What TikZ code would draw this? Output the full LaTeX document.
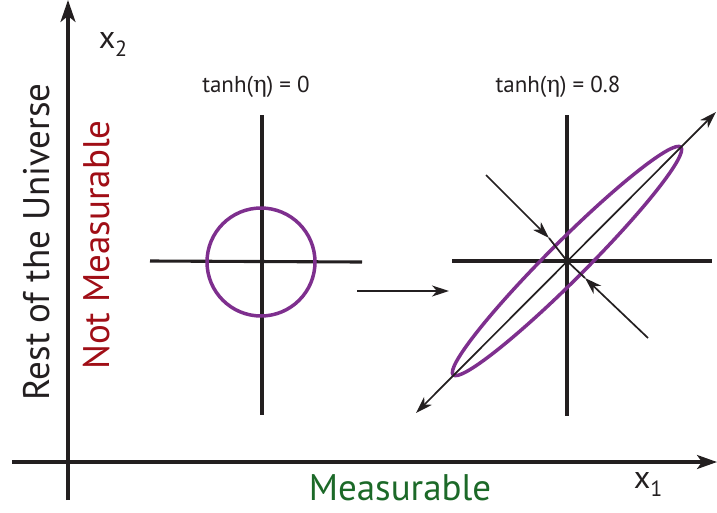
\documentclass[tikz,border=0pt]{standalone}
\usepackage{fontspec}
\setmainfont{PT Sans}
\newfontfamily\grk{DejaVu Serif}
\usetikzlibrary{arrows.meta}
\definecolor{purp}{RGB}{126,47,142}
\definecolor{nmred}{RGB}{160,14,22}
\definecolor{mgreen}{RGB}{28,105,40}
\definecolor{ink}{RGB}{35,31,32}
\tikzset{
  axisline/.style={draw=ink,line width=3.1pt},
  plotline/.style={draw=ink,line width=3.1pt},
  thinarrow/.style={draw=ink,line width=1.7pt},
  ell/.style={draw=purp,line width=3.5pt},
  bigtip/.style={-{Stealth[length=22pt,width=15pt,inset=6pt]}},
  smalltip/.style={-{Stealth[length=17pt,width=11pt,inset=5pt]}},
  bothtip/.style={{Stealth[length=17pt,width=11pt,inset=5pt]}-{Stealth[length=17pt,width=11pt,inset=5pt]}},
  biglabel/.style={font=\fontsize{37}{42}\selectfont,inner sep=0pt},
  ttl/.style={font=\fontsize{23}{26}\selectfont,inner sep=0pt,text=ink},
  axlabel/.style={font=\fontsize{32}{36}\selectfont,inner sep=0pt,text=ink}
}
\begin{document}
\begin{tikzpicture}[x=1pt,y=-1pt]
\useasboundingbox (0,0) rectangle (717,512);
% main axes
\coordinate (yb) at (68,500);
\coordinate (yt) at (68,0);
\coordinate (xl) at (12,462);
\coordinate (xr) at (717,462);
\draw[axisline,bigtip] (yb) -- (yt);
\draw[axisline,-{Stealth[length=20pt,width=14pt,inset=5pt]}] (xl) -- (xr);
\node[axlabel] (x2) at (113,44) {x\raisebox{-0.25em}{\fontsize{22}{24}\selectfont 2}};
\node[axlabel] (x1) at (648,484) {x\raisebox{-0.25em}{\fontsize{22}{24}\selectfont 1}};
\node[biglabel,rotate=90,text=ink] (rest) at (37,242) {Rest of the Universe};
\node[biglabel,rotate=90,text=nmred] (notm) at (97,245) {Not Measurable};
\node[biglabel,text=mgreen] (meas) at (400,488) {Measurable};
% left plot
\coordinate (lt) at (262,115);
\coordinate (lb) at (262,415);
\coordinate (ll) at (150,261);
\coordinate (lr) at (362,262);
\coordinate (lc) at (261,262);
\draw[plotline] (lt) -- (lb);
\draw[plotline] (ll) -- (lr);
\draw[ell] (lc) circle[radius=54pt];
\node[ttl] (t0) at (256,87) {tanh({\grk η}) = 0};
% middle arrow
\coordinate (ma) at (357,291);
\coordinate (mb) at (449,291);
\draw[thinarrow,smalltip] (ma) -- (mb);
% right plot
\coordinate (rt) at (567,115);
\coordinate (rb) at (567,416);
\coordinate (rl) at (452,261);
\coordinate (rr) at (712,261);
\coordinate (rc) at (567,261);
\draw[plotline] (rt) -- (rb);
\draw[plotline] (rl) -- (rr);
\draw[ell] (rc) ellipse[x radius=161pt,y radius=19pt,rotate=45];
\coordinate (dl) at (416,413);
\coordinate (du) at (716,112);
\draw[thinarrow,bothtip] (dl) -- (du);
\coordinate (a1) at (486,175);
\coordinate (a1t) at (549,238);
\coordinate (a2) at (648,338);
\coordinate (a2t) at (585,278);
\draw[thinarrow,smalltip] (a1) -- (a1t);
\draw[thinarrow] (a1t) -- (rc);
\draw[thinarrow,smalltip] (a2) -- (a2t);
\draw[thinarrow] (a2t) -- (rc);
\node[ttl] (t8) at (558,87) {tanh({\grk η}) = 0.8};
\end{tikzpicture}
\end{document}
